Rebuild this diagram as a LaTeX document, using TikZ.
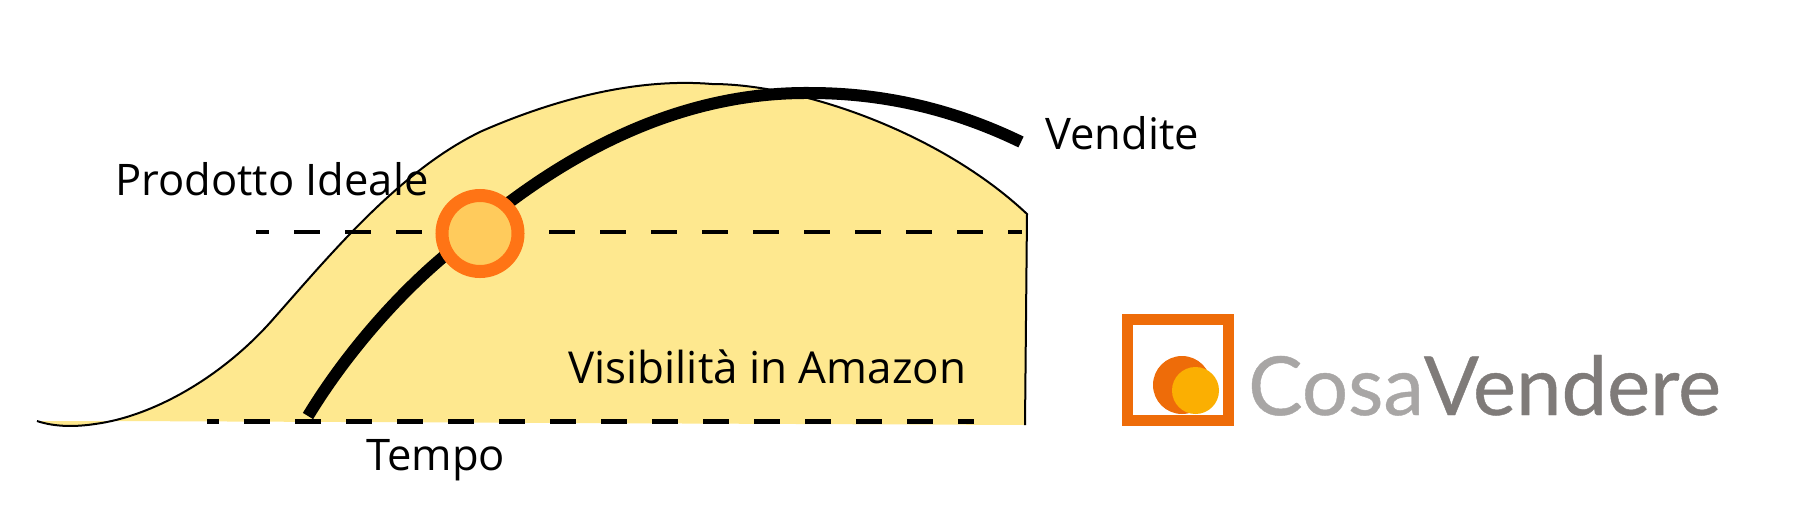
\documentclass[tikz,border=0pt]{standalone}
\usepackage{fontspec}
\setmainfont{Open Sans}
\newfontfamily\logofont[FakeBold=0.5]{Lato}
\definecolor{areafill}{HTML}{FEE88F}
\definecolor{ringc}{HTML}{FF7415}
\definecolor{dotc}{HTML}{FFCB5C}
\definecolor{logoor}{HTML}{EE6C09}
\definecolor{logoye}{HTML}{FBAF02}
\definecolor{logola}{HTML}{A8A6A5}
\definecolor{logoda}{HTML}{7F7B79}
\tikzset{
 lab/.style={anchor=base west,inner sep=0pt,font=\fontsize{43.5}{50}\selectfont,text=black},
 dashline/.style={line width=4.2pt,black,dash pattern=on 26pt off 25pt},
 thickcurve/.style={line width=12pt,black,line cap=butt},
 outline/.style={line width=2pt,black}
}
\begin{document}
\begin{tikzpicture}[x=1pt,y=-1pt]
\useasboundingbox (0,0) rectangle (1800,520);
\fill[white] (0,0) rectangle (1800,520);
% area
\def\outlinepath{(37,421) .. controls (55,427) and (75,427) .. (95,424)
 .. controls (155,416) and (225,375) .. (275,317)
 .. controls (330,255) and (400,170) .. (482,131)
 .. controls (560,97) and (640,78) .. (712,84)
 .. controls (800,84) and (940,132) .. (1027,214)}
\fill[areafill] \outlinepath -- (1025,425) -- (115,421) -- cycle;
\draw[outline] \outlinepath -- (1025,425);
% dashed lines
\coordinate (d1a) at (243,232); \coordinate (d1b) at (1022,232);
\coordinate (d2a) at (195,421.5); \coordinate (d2b) at (974,421.5);
\draw[dashline,dash phase=13pt] (d1a) ++(13,0) -- (d1b);
\draw[dashline,dash phase=14pt] (207,421.5) -- (d2b);
% sales curve
\draw[thickcurve] (308,416) .. controls (345,355) and (395,298) .. (442,258)
 .. controls (465,238) and (490,215) .. (511,201)
 .. controls (600,135) and (700,92) .. (810,93)
 .. controls (885,93) and (955,110) .. (1021,142);
% ideal point
\node[circle,draw=ringc,fill=dotc,line width=13pt,minimum size=76pt,inner sep=0pt] (ideal) at (480,233.5) {};
% labels
\node[lab] (prod) at (115,195) {Prodotto Ideale};
\node[lab] (vend) at (1045,149) {Vendite};
\node[lab,font=\fontsize{44}{50}\selectfont] (vis) at (568,383) {Visibilità in Amazon};
\node[lab] (tempo) at (366,470) {Tempo};
% logo
\draw[logoor,line width=11pt] (1127.5,319.5) rectangle (1228.5,420.5);
\fill[logoor] (1182,385) circle (29);
\fill[logoye] (1195.5,390.5) circle (23.5);
\node[anchor=base west,inner sep=0pt,font=\logofont\fontsize{81.5}{90}\selectfont] (logo) at (1248,415)
 {\textcolor{logola}{Cosa}\textcolor{logoda}{Vendere}};
\end{tikzpicture}
\end{document}
